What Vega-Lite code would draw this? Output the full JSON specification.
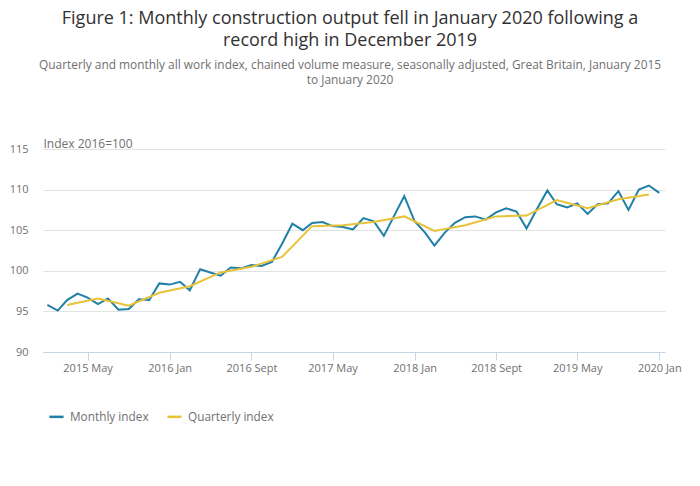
{
  "$schema": "https://vega.github.io/schema/vega-lite/v6.json",
  "width": 622,
  "height": 203,
  "autosize": {"type": "none"},
  "padding": {"left": 43, "top": 149, "right": 35, "bottom": 134},
  "background": "white",
  "config": {
    "font": "Open Sans",
    "view": {"stroke": null}
  },
  "title": {
    "text": ["Figure 1: Monthly construction output fell in January 2020 following a", "record high in December 2019"],
    "subtitle": ["Quarterly and monthly all work index, chained volume measure, seasonally adjusted, Great Britain, January 2015", "to January 2020"],
    "anchor": "middle",
    "frame": "group",
    "dx": -4,
    "offset": 51,
    "font": "Open Sans",
    "fontSize": 18,
    "fontWeight": "normal",
    "lineHeight": 22,
    "color": "#323132",
    "subtitleFont": "Open Sans",
    "subtitleFontSize": 11.9,
    "subtitleLineHeight": 15,
    "subtitleColor": "#707071",
    "subtitlePadding": 10
  },
  "data": {
    "values": [
      {"date": "2015-01-01", "series": "Monthly index", "value": 95.8},
      {"date": "2015-02-01", "series": "Monthly index", "value": 95.1},
      {"date": "2015-03-01", "series": "Monthly index", "value": 96.4},
      {"date": "2015-04-01", "series": "Monthly index", "value": 97.2},
      {"date": "2015-05-01", "series": "Monthly index", "value": 96.7},
      {"date": "2015-06-01", "series": "Monthly index", "value": 95.9},
      {"date": "2015-07-01", "series": "Monthly index", "value": 96.6},
      {"date": "2015-08-01", "series": "Monthly index", "value": 95.2},
      {"date": "2015-09-01", "series": "Monthly index", "value": 95.3},
      {"date": "2015-10-01", "series": "Monthly index", "value": 96.5},
      {"date": "2015-11-01", "series": "Monthly index", "value": 96.4},
      {"date": "2015-12-01", "series": "Monthly index", "value": 98.45},
      {"date": "2016-01-01", "series": "Monthly index", "value": 98.3},
      {"date": "2016-02-01", "series": "Monthly index", "value": 98.65},
      {"date": "2016-03-01", "series": "Monthly index", "value": 97.6},
      {"date": "2016-04-01", "series": "Monthly index", "value": 100.2},
      {"date": "2016-05-01", "series": "Monthly index", "value": 99.8},
      {"date": "2016-06-01", "series": "Monthly index", "value": 99.4},
      {"date": "2016-07-01", "series": "Monthly index", "value": 100.4},
      {"date": "2016-08-01", "series": "Monthly index", "value": 100.3},
      {"date": "2016-09-01", "series": "Monthly index", "value": 100.7},
      {"date": "2016-10-01", "series": "Monthly index", "value": 100.6},
      {"date": "2016-11-01", "series": "Monthly index", "value": 101.1},
      {"date": "2016-12-01", "series": "Monthly index", "value": 103.3},
      {"date": "2017-01-01", "series": "Monthly index", "value": 105.8},
      {"date": "2017-02-01", "series": "Monthly index", "value": 105.0},
      {"date": "2017-03-01", "series": "Monthly index", "value": 105.9},
      {"date": "2017-04-01", "series": "Monthly index", "value": 106.0},
      {"date": "2017-05-01", "series": "Monthly index", "value": 105.5},
      {"date": "2017-06-01", "series": "Monthly index", "value": 105.4},
      {"date": "2017-07-01", "series": "Monthly index", "value": 105.1},
      {"date": "2017-08-01", "series": "Monthly index", "value": 106.5},
      {"date": "2017-09-01", "series": "Monthly index", "value": 106.1},
      {"date": "2017-10-01", "series": "Monthly index", "value": 104.3},
      {"date": "2017-11-01", "series": "Monthly index", "value": 106.8},
      {"date": "2017-12-01", "series": "Monthly index", "value": 109.2},
      {"date": "2018-01-01", "series": "Monthly index", "value": 106.1},
      {"date": "2018-02-01", "series": "Monthly index", "value": 104.7},
      {"date": "2018-03-01", "series": "Monthly index", "value": 103.1},
      {"date": "2018-04-01", "series": "Monthly index", "value": 104.7},
      {"date": "2018-05-01", "series": "Monthly index", "value": 105.9},
      {"date": "2018-06-01", "series": "Monthly index", "value": 106.6},
      {"date": "2018-07-01", "series": "Monthly index", "value": 106.7},
      {"date": "2018-08-01", "series": "Monthly index", "value": 106.3},
      {"date": "2018-09-01", "series": "Monthly index", "value": 107.2},
      {"date": "2018-10-01", "series": "Monthly index", "value": 107.7},
      {"date": "2018-11-01", "series": "Monthly index", "value": 107.3},
      {"date": "2018-12-01", "series": "Monthly index", "value": 105.2},
      {"date": "2019-01-01", "series": "Monthly index", "value": 107.6},
      {"date": "2019-02-01", "series": "Monthly index", "value": 109.9},
      {"date": "2019-03-01", "series": "Monthly index", "value": 108.2},
      {"date": "2019-04-01", "series": "Monthly index", "value": 107.8},
      {"date": "2019-05-01", "series": "Monthly index", "value": 108.3},
      {"date": "2019-06-01", "series": "Monthly index", "value": 107.0},
      {"date": "2019-07-01", "series": "Monthly index", "value": 108.2},
      {"date": "2019-08-01", "series": "Monthly index", "value": 108.3},
      {"date": "2019-09-01", "series": "Monthly index", "value": 109.8},
      {"date": "2019-10-01", "series": "Monthly index", "value": 107.5},
      {"date": "2019-11-01", "series": "Monthly index", "value": 110.0},
      {"date": "2019-12-01", "series": "Monthly index", "value": 110.5},
      {"date": "2020-01-01", "series": "Monthly index", "value": 109.6},
      {"date": "2015-03-01", "series": "Quarterly index", "value": 95.8},
      {"date": "2015-06-01", "series": "Quarterly index", "value": 96.6},
      {"date": "2015-09-01", "series": "Quarterly index", "value": 95.7},
      {"date": "2015-12-01", "series": "Quarterly index", "value": 97.3},
      {"date": "2016-03-01", "series": "Quarterly index", "value": 98.1},
      {"date": "2016-06-01", "series": "Quarterly index", "value": 99.8},
      {"date": "2016-09-01", "series": "Quarterly index", "value": 100.5},
      {"date": "2016-12-01", "series": "Quarterly index", "value": 101.7},
      {"date": "2017-03-01", "series": "Quarterly index", "value": 105.5},
      {"date": "2017-06-01", "series": "Quarterly index", "value": 105.6},
      {"date": "2017-09-01", "series": "Quarterly index", "value": 106.0},
      {"date": "2017-12-01", "series": "Quarterly index", "value": 106.7},
      {"date": "2018-03-01", "series": "Quarterly index", "value": 104.9},
      {"date": "2018-06-01", "series": "Quarterly index", "value": 105.6},
      {"date": "2018-09-01", "series": "Quarterly index", "value": 106.7},
      {"date": "2018-12-01", "series": "Quarterly index", "value": 106.8},
      {"date": "2019-03-01", "series": "Quarterly index", "value": 108.7},
      {"date": "2019-06-01", "series": "Quarterly index", "value": 107.7},
      {"date": "2019-09-01", "series": "Quarterly index", "value": 108.8},
      {"date": "2019-12-01", "series": "Quarterly index", "value": 109.4}
    ]
  },
  "mark": {"type": "line", "strokeWidth": 2, "interpolate": "linear"},
  "encoding": {
    "x": {
      "field": "date",
      "type": "temporal",
      "scale": {
        "type": "utc",
        "domain": [
          {"year": 2014, "month": 12, "date": 19, "utc": true},
          {"year": 2020, "month": 1, "date": 18, "utc": true}
        ]
      },
      "axis": {
        "title": null,
        "grid": false,
        "values": [
          {"year": 2015, "month": 5, "date": 1, "utc": true},
          {"year": 2016, "month": 1, "date": 1, "utc": true},
          {"year": 2016, "month": 9, "date": 1, "utc": true},
          {"year": 2017, "month": 5, "date": 1, "utc": true},
          {"year": 2018, "month": 1, "date": 1, "utc": true},
          {"year": 2018, "month": 9, "date": 1, "utc": true},
          {"year": 2019, "month": 5, "date": 1, "utc": true},
          {"year": 2020, "month": 1, "date": 1, "utc": true}
        ],
        "labelExpr": "utcFormat(datum.value, '%m') == '09' ? utcFormat(datum.value, '%Y') + ' Sept' : utcFormat(datum.value, '%Y %b')",
        "domainColor": "#c6d4e6",
        "tickColor": "#c6d4e6",
        "tickSize": 8,
        "labelPadding": 2,
        "labelFont": "Open Sans",
        "labelFontSize": 11,
        "labelColor": "#707071",
        "labelFlush": false,
        "labelOverlap": false
      }
    },
    "y": {
      "field": "value",
      "type": "quantitative",
      "scale": {"domain": [90, 115], "zero": false, "nice": false},
      "axis": {
        "values": [90, 95, 100, 105, 110, 115],
        "title": "Index 2016=100",
        "titleAngle": 0,
        "titleX": 0,
        "titleY": -2,
        "titleAlign": "left",
        "titleBaseline": "alphabetic",
        "titleFont": "Open Sans",
        "titleFontSize": 12,
        "titleFontWeight": "normal",
        "titleColor": "#707071",
        "domain": false,
        "ticks": false,
        "tickSize": 0,
        "labelPadding": 15,
        "labelFont": "Open Sans",
        "labelFontSize": 11,
        "labelColor": "#707071",
        "gridColor": "#e2e2e2",
        "gridWidth": 1
      }
    },
    "color": {
      "field": "series",
      "type": "nominal",
      "scale": {
        "domain": ["Monthly index", "Quarterly index"],
        "range": ["#1f7fa8", "#e8c239"]
      },
      "legend": {
        "title": null,
        "orient": "none",
        "legendX": 5,
        "legendY": 259,
        "direction": "horizontal",
        "symbolType": "stroke",
        "symbolSize": 200,
        "symbolStrokeWidth": 2.5,
        "labelFont": "Open Sans",
        "labelFontSize": 11.8,
        "labelColor": "#707071",
        "labelOffset": 5,
        "columnPadding": 13
      }
    }
  }
}
